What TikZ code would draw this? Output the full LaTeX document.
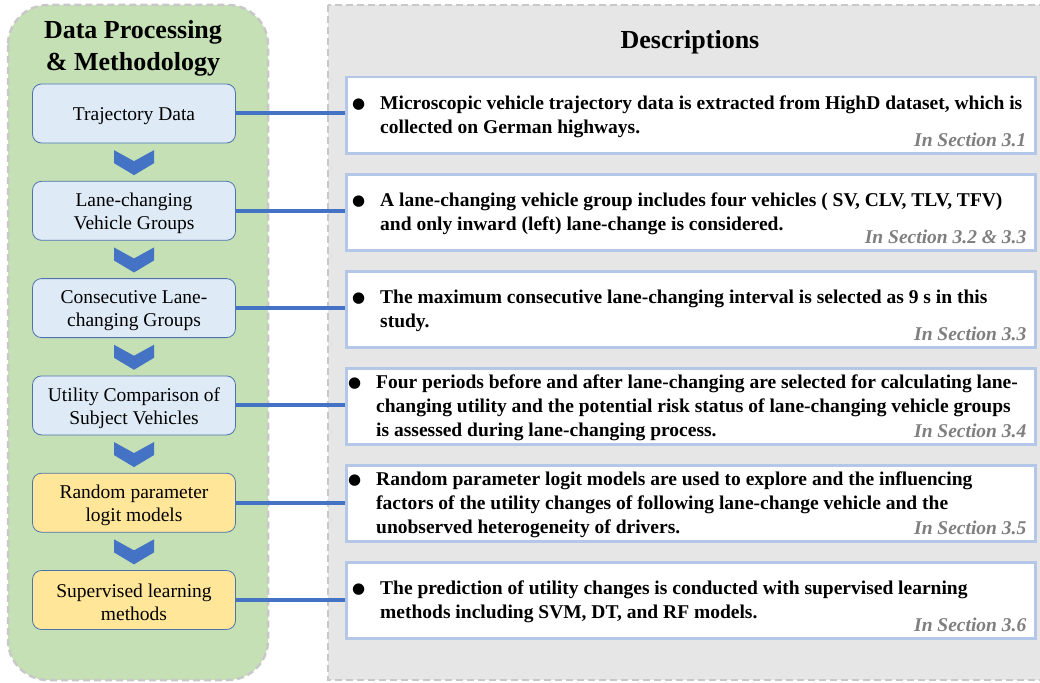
\documentclass[tikz,border=0pt]{standalone}
\usepackage{fontspec}
\setmainfont{Liberation Serif}
\newfontfamily\symfont{DejaVu Sans}
\usetikzlibrary{positioning,calc}

\definecolor{panelgreen}{HTML}{C5E0B4}
\definecolor{panelgray}{HTML}{E7E6E6}
\definecolor{dashgray}{HTML}{C8C8C8}
\definecolor{stepblue}{HTML}{DEEBF7}
\definecolor{stepyellow}{HTML}{FFE699}
\definecolor{stepedge}{HTML}{4E73AE}
\definecolor{linkblue}{HTML}{4472C4}
\definecolor{descedge}{HTML}{B4C7E7}
\definecolor{secgray}{HTML}{7F7F7F}

\newcommand{\bul}{\makebox[0pt][r]{\raisebox{0.5pt}{\fontsize{15}{15}\symfont ●}\hspace{15pt}}}
\newcommand{\lift}{\rule{0pt}{18.5pt}}

\begin{document}
\begin{tikzpicture}[x=1pt,y=-1pt,
	panel/.style={draw=dashgray, line width=2.5pt, dash pattern=on 7pt off 4pt},
	stepbox/.style={draw=stepedge, line width=0.8pt, rounded corners=9pt, fill=stepblue, minimum width=203pt, minimum height=59pt, align=center, inner sep=2pt, font=\fontsize{19.5}{23}\selectfont},
	modelbox/.style={stepbox, fill=stepyellow},
	descbox/.style={draw=descedge, line width=2.5pt, fill=white, minimum width=689pt, minimum height=76pt},
	desctext/.style={anchor=west, align=left, inner sep=0pt, font=\fontsize{19.5}{24}\selectfont\bfseries},
	secnote/.style={anchor=east, inner sep=0pt, text=secgray, font=\fontsize{19.5}{22}\selectfont\bfseries\itshape},
	link/.style={draw=linkblue, line width=4pt},
	chevron/.pic={\fill[linkblue] (-20,-12) -- (0,-1) -- (20,-12) -- (20,1) -- (0,13) -- (-20,1) -- cycle;}
]
	\useasboundingbox (0,0) rectangle (1040,682);

	% Panels
	\draw[panel, fill=panelgreen, rounded corners=40pt] (8,5) rectangle (268,680);
	\draw[panel, fill=panelgray] (328,5) rectangle (1046,680);

	% Titles
	\node[align=center, font=\fontsize{26}{32}\selectfont\bfseries] (methtitle) at (133,48) {Data Processing\\\& Methodology};
	\node[font=\fontsize{26}{30}\selectfont\bfseries] (desctitle) at (690,42) {Descriptions};

	% Steps
	\node[stepbox] (traj) at (134,113.5) {\lift Trajectory Data};
	\node[stepbox, below=37.5pt of traj] (groups) {\lift Lane-changing\\Vehicle Groups};
	\node[stepbox, below=37.5pt of groups] (consec) {\lift Consecutive Lane-\\changing Groups};
	\node[stepbox, below=37.5pt of consec] (utility) {\lift Utility Comparison of\\Subject Vehicles};
	\node[modelbox, below=37.5pt of utility] (logit) {\lift Random parameter\\logit models};
	\node[modelbox, below=37.5pt of logit] (learning) {\lift Supervised learning\\methods};

	\foreach \a/\b in {traj/groups, groups/consec, consec/utility, utility/logit, logit/learning}
		\pic at ($(\a.south)!0.5!(\b.north)$) {chevron};

	% Descriptions
	\node[descbox, anchor=north west] (dtraj) at (345,76) {};
	\node[descbox, below=18.5pt of dtraj] (dgroups) {};
	\node[descbox, below=18.5pt of dgroups] (dconsec) {};
	\node[descbox, below=18.5pt of dconsec] (dutility) {};
	\node[descbox, below=18.5pt of dutility] (dlogit) {};
	\node[descbox, below=18.5pt of dlogit] (dlearning) {};

	\node[desctext] (ttraj) at ([xshift=35pt,yshift=-1.5pt]dtraj.west) {\bul Microscopic vehicle trajectory data is extracted from HighD dataset, which is\\collected on German highways.};
	\node[desctext] (tgroups) at ([xshift=35pt,yshift=-1.5pt]dgroups.west) {\bul A lane-changing vehicle group includes four vehicles ( SV, CLV, TLV, TFV)\\and only inward (left) lane-change is considered.};
	\node[desctext] (tconsec) at ([xshift=35pt,yshift=-1.5pt]dconsec.west) {\bul The maximum consecutive lane-changing interval is selected as 9 s in this\\study.};
	\node[desctext] (tutility) at ([xshift=31pt,yshift=-1.5pt]dutility.west) {\bul Four periods before and after lane-changing are selected for calculating lane-\\changing utility and the potential risk status of lane-changing vehicle groups\\is assessed during lane-changing process.};
	\node[desctext] (tlogit) at ([xshift=31pt,yshift=-1.5pt]dlogit.west) {\bul Random parameter logit models are used to explore and the influencing\\factors of the utility changes of following lane-change vehicle and the\\unobserved heterogeneity of drivers.};
	\node[desctext] (tlearning) at ([xshift=35pt,yshift=-1.5pt]dlearning.west) {\bul The prediction of utility changes is conducted with supervised learning\\methods including SVM, DT, and RF models.};

	%Section notes
	\node[secnote] (straj) at ([xshift=-10pt,yshift=15pt]dtraj.south east) {In Section 3.1};
	\node[secnote] (sgroups) at ([xshift=-10pt,yshift=15pt]dgroups.south east) {In Section 3.2 \& 3.3};
	\node[secnote] (sconsec) at ([xshift=-10pt,yshift=15pt]dconsec.south east) {In Section 3.3};
	\node[secnote] (sutility) at ([xshift=-10pt,yshift=15pt]dutility.south east) {In Section 3.4};
	\node[secnote] (slogit) at ([xshift=-10pt,yshift=15pt]dlogit.south east) {In Section 3.5};
	\node[secnote] (slearning) at ([xshift=-10pt,yshift=15pt]dlearning.south east) {In Section 3.6};

	% Links
	\foreach \a in {traj, groups, consec, utility, logit, learning}
		\draw[link] (\a.east) -- (\a.east -| d\a.west);
\end{tikzpicture}
\end{document}
